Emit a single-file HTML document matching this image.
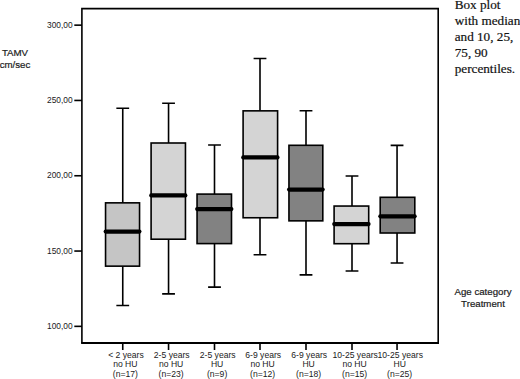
<!DOCTYPE html>
<html><head><meta charset="utf-8"><style>
html,body{margin:0;padding:0;background:#fff;width:520px;height:379px;overflow:hidden}
svg{display:block}
.w,.t{stroke:#000;stroke-width:1.6;fill:none}
.b{stroke:#000;stroke-width:1.6}
.m{stroke:#000;stroke-width:4.2;stroke-linecap:round}
text{font-family:"Liberation Sans",sans-serif;fill:#1a1a1a}
.yl{font-size:8.4px;text-anchor:end}
.xl{font-size:8.6px;text-anchor:middle}
.al{font-size:9.7px;stroke:#1a1a1a;stroke-width:0.2px;text-anchor:middle}
.cap{font-family:"Liberation Serif",serif;font-size:13.2px;fill:#111;stroke:#111;stroke-width:0.2px}
</style></head><body>
<svg width="520" height="379" viewBox="0 0 520 379">
<path d="M81.9 343V8.6H438.2V343" fill="none" stroke="#000" stroke-width="1.6"/>
<line x1="81.1" y1="343" x2="439" y2="343" stroke="#000" stroke-width="1.8"/>
<path d="M122.75 108.3V202.85M122.75 266.15V305.45M116.35 108.3H129.15M116.35 305.45H129.15" class="w"/>
<rect x="105.55" y="202.85" width="34.00" height="63.30" fill="#c5c5c5" class="b"/>
<line x1="105.70" y1="231.6" x2="139.40" y2="231.6" class="m"/>
<path d="M168.55 103.25V143.0M168.55 239.2V293.85M162.15 103.25H174.95M162.15 293.85H174.95" class="w"/>
<rect x="151.1" y="143.0" width="34.35" height="96.20" fill="#d4d4d4" class="b"/>
<line x1="151.25" y1="195.4" x2="185.30" y2="195.4" class="m"/>
<path d="M214.5 144.95V194.1M214.5 243.6V287.15M208.10 144.95H220.90M208.10 287.15H220.90" class="w"/>
<rect x="197.05" y="194.1" width="34.45" height="49.50" fill="#828282" class="b"/>
<line x1="197.20" y1="209.1" x2="231.35" y2="209.1" class="m"/>
<path d="M260.0 58.55V110.85M260.0 217.75V254.8M253.60 58.55H266.40M253.60 254.8H266.40" class="w"/>
<rect x="243.1" y="110.85" width="34.50" height="106.90" fill="#d4d4d4" class="b"/>
<line x1="243.25" y1="157.4" x2="277.45" y2="157.4" class="m"/>
<path d="M306.0 110.7V145.3M306.0 220.85V274.9M299.60 110.7H312.40M299.60 274.9H312.40" class="w"/>
<rect x="288.95" y="145.3" width="33.85" height="75.55" fill="#828282" class="b"/>
<line x1="289.10" y1="189.55" x2="322.65" y2="189.55" class="m"/>
<path d="M352.0 176.0V206.05M352.0 243.7V270.95M345.60 176.0H358.40M345.60 270.95H358.40" class="w"/>
<rect x="334.1" y="206.05" width="34.60" height="37.65" fill="#d4d4d4" class="b"/>
<line x1="334.25" y1="224.1" x2="368.55" y2="224.1" class="m"/>
<path d="M397.05 145.4V197.3M397.05 233.0V262.95M390.65 145.4H403.45M390.65 262.95H403.45" class="w"/>
<rect x="380.2" y="197.3" width="34.60" height="35.70" fill="#828282" class="b"/>
<line x1="380.35" y1="216.35" x2="414.65" y2="216.35" class="m"/>
<line x1="74.3" y1="25.15" x2="82" y2="25.15" class="t"/>
<text x="72.6" y="27.80" class="yl">300,00</text>
<line x1="74.3" y1="100.45" x2="82" y2="100.45" class="t"/>
<text x="72.6" y="103.10" class="yl">250,00</text>
<line x1="74.3" y1="175.75" x2="82" y2="175.75" class="t"/>
<text x="72.6" y="178.40" class="yl">200,00</text>
<line x1="74.3" y1="251.05" x2="82" y2="251.05" class="t"/>
<text x="72.6" y="253.70" class="yl">150,00</text>
<line x1="74.3" y1="326.35" x2="82" y2="326.35" class="t"/>
<text x="72.6" y="329.00" class="yl">100,00</text>
<line x1="122.75" y1="343" x2="122.75" y2="350" class="t"/>
<text x="125.95" y="357.8" class="xl">&lt; 2 years</text>
<text x="125.35" y="367.4" class="xl">no HU</text>
<text x="125.35" y="377.2" class="xl">(n=17)</text>
<line x1="168.55" y1="343" x2="168.55" y2="350" class="t"/>
<text x="171.75" y="357.8" class="xl">2-5 years</text>
<text x="171.15" y="367.4" class="xl">no HU</text>
<text x="171.15" y="377.2" class="xl">(n=23)</text>
<line x1="214.5" y1="343" x2="214.5" y2="350" class="t"/>
<text x="217.70" y="357.8" class="xl">2-5 years</text>
<text x="217.10" y="367.4" class="xl">HU</text>
<text x="217.10" y="377.2" class="xl">(n=9)</text>
<line x1="260.0" y1="343" x2="260.0" y2="350" class="t"/>
<text x="263.20" y="357.8" class="xl">6-9 years</text>
<text x="262.60" y="367.4" class="xl">no HU</text>
<text x="262.60" y="377.2" class="xl">(n=12)</text>
<line x1="306.0" y1="343" x2="306.0" y2="350" class="t"/>
<text x="309.20" y="357.8" class="xl">6-9 years</text>
<text x="308.60" y="367.4" class="xl">HU</text>
<text x="308.60" y="377.2" class="xl">(n=18)</text>
<line x1="352.0" y1="343" x2="352.0" y2="350" class="t"/>
<text x="355.20" y="357.8" class="xl">10-25 years</text>
<text x="354.60" y="367.4" class="xl">no HU</text>
<text x="354.60" y="377.2" class="xl">(n=15)</text>
<line x1="397.05" y1="343" x2="397.05" y2="350" class="t"/>
<text x="400.25" y="357.8" class="xl">10-25 years</text>
<text x="399.65" y="367.4" class="xl">HU</text>
<text x="399.65" y="377.2" class="xl">(n=25)</text>
<text x="15" y="56" class="al">TAMV</text>
<text x="15" y="68" class="al">cm/sec</text>
<text x="483" y="295.1" class="al">Age category</text>
<text x="483" y="307" class="al">Treatment</text>
<text x="454.7" y="9" class="cap">Box plot</text>
<text x="454.7" y="25" class="cap">with median</text>
<text x="454.7" y="41" class="cap">and 10, 25,</text>
<text x="454.7" y="57" class="cap">75, 90</text>
<text x="454.7" y="73" class="cap">percentiles.</text>
</svg>
</body></html>
